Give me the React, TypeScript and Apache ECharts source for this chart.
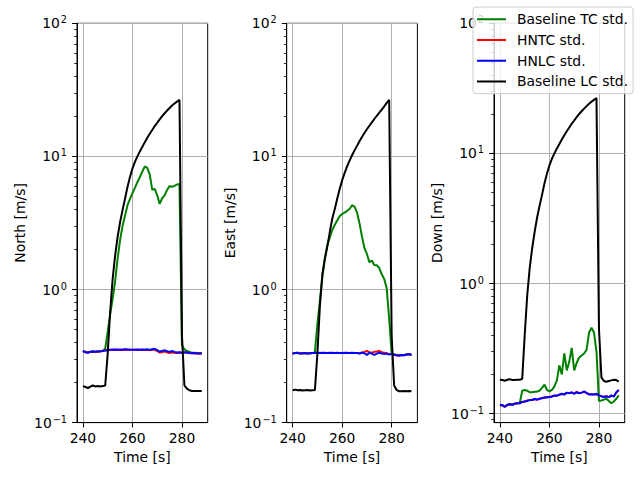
import React, { useEffect, useRef } from "react";
import * as echarts from "echarts";

const time = [
  240, 241, 242, 243, 244, 245, 246, 247, 248, 249,
  250, 251, 252, 253, 254, 255, 256, 257, 258, 259,
  260, 261, 262, 263, 264, 265, 266, 267, 268, 269,
  270, 271, 272, 273, 274, 275, 276, 277, 278, 279,
  280, 281, 282, 283, 284, 285, 286, 287, 288,
];

// North
const northTC = [
  0.345, 0.34, 0.338, 0.34, 0.342, 0.34, 0.342, 0.343, 0.345, 0.36,
  0.48, 0.65, 0.85, 1.15, 1.7, 2.35, 3.0, 3.6, 4.3, 4.8,
  5.3, 5.8, 6.4, 7.0, 7.7, 8.4, 8.2, 7.3, 5.6, 5.7,
  5.1, 4.4, 4.85, 5.1, 5.6, 6.0, 5.9, 6.0, 6.15, 6.2,
  0.38, 0.355, 0.345, 0.34, 0.335, 0.335, 0.333, 0.333, 0.333,
];
const northHNTC = [
  0.344, 0.337, 0.336, 0.34, 0.341, 0.341, 0.342, 0.342, 0.346, 0.349,
  0.351, 0.352, 0.352, 0.353, 0.353, 0.352, 0.352, 0.354, 0.353, 0.352,
  0.352, 0.352, 0.353, 0.351, 0.352, 0.351, 0.352, 0.35, 0.352, 0.352,
  0.345, 0.336, 0.338, 0.343, 0.336, 0.333, 0.338, 0.334, 0.333, 0.336,
  0.334, 0.337, 0.335, 0.333, 0.332, 0.332, 0.331, 0.33, 0.33,
];
const northHNLC = [
  0.345, 0.338, 0.335, 0.34, 0.342, 0.34, 0.342, 0.343, 0.345, 0.348,
  0.35, 0.352, 0.353, 0.354, 0.352, 0.352, 0.353, 0.355, 0.354, 0.353,
  0.352, 0.353, 0.354, 0.352, 0.354, 0.353, 0.355, 0.352, 0.356, 0.358,
  0.35, 0.342, 0.346, 0.35, 0.343, 0.34, 0.345, 0.34, 0.336, 0.338,
  0.335, 0.338, 0.336, 0.333, 0.332, 0.333, 0.331, 0.33, 0.331,
];
const northLC = [
  0.188, 0.185, 0.182, 0.186, 0.19, 0.187, 0.188, 0.187, 0.188, 0.19,
  0.33, 0.68, 1.2, 1.8, 2.48, 3.2, 3.95, 4.8, 5.9, 7.0,
  8.1, 9.1, 10.0, 10.9, 11.8, 12.8, 13.8, 14.8, 15.8, 16.9,
  17.9, 19.0, 20.1, 21.1, 22.1, 23.1, 24.1, 25.0, 25.8, 26.6,
  0.45, 0.19, 0.18, 0.175, 0.173, 0.173, 0.173, 0.173, 0.173,
];

// East
const eastTC = [
  0.33, 0.333, 0.335, 0.33, 0.332, 0.333, 0.33, 0.332, 0.333, 0.34,
  0.55, 0.82, 1.24, 1.7, 2.15, 2.45, 2.8, 3.05, 3.3, 3.55,
  3.7, 3.78, 3.9, 4.03, 4.3, 4.2, 3.8, 3.15, 2.5, 2.05,
  1.85, 1.6, 1.65, 1.53, 1.52, 1.45, 1.3, 1.2, 1.02, 0.6,
  0.33, 0.326, 0.324, 0.322, 0.322, 0.322, 0.324, 0.326, 0.322,
];
const eastHNTC = [
  0.331, 0.333, 0.334, 0.331, 0.332, 0.333, 0.331, 0.332, 0.333, 0.334,
  0.335, 0.334, 0.334, 0.335, 0.334, 0.334, 0.335, 0.334, 0.334, 0.333,
  0.334, 0.334, 0.335, 0.334, 0.333, 0.334, 0.334, 0.332, 0.336, 0.34,
  0.345, 0.338, 0.335, 0.34, 0.342, 0.345, 0.338, 0.335, 0.332, 0.327,
  0.327, 0.323, 0.321, 0.319, 0.322, 0.321, 0.325, 0.327, 0.323,
];
const eastHNLC = [
  0.33, 0.333, 0.335, 0.33, 0.332, 0.333, 0.33, 0.332, 0.333, 0.334,
  0.335, 0.334, 0.335, 0.334, 0.334, 0.335, 0.334, 0.334, 0.335, 0.334,
  0.334, 0.335, 0.334, 0.334, 0.335, 0.334, 0.333, 0.33, 0.335, 0.332,
  0.322, 0.335, 0.33, 0.322, 0.33, 0.335, 0.33, 0.328, 0.33, 0.325,
  0.328, 0.322, 0.32, 0.318, 0.322, 0.32, 0.325, 0.328, 0.322,
];
const eastLC = [
  0.175, 0.177, 0.175, 0.176, 0.174, 0.175, 0.176, 0.174, 0.175, 0.176,
  0.33, 0.75, 1.3, 1.7, 2.1, 2.7, 3.4, 4.0, 4.8, 5.7,
  6.6, 7.5, 8.4, 9.3, 10.2, 11.1, 12.0, 13.0, 14.0, 15.0,
  16.0, 17.0, 18.0, 19.1, 20.2, 21.3, 22.5, 23.8, 25.2, 26.6,
  0.45, 0.19, 0.176, 0.172, 0.172, 0.173, 0.172, 0.173, 0.172,
];

// Down
const downTC = [
  0.117, 0.116, 0.113, 0.117, 0.118, 0.117, 0.119, 0.12, 0.12, 0.15,
  0.152, 0.15, 0.146, 0.146, 0.147, 0.148, 0.15, 0.158, 0.167, 0.152,
  0.148, 0.152, 0.162, 0.18, 0.235, 0.2, 0.29, 0.215, 0.25, 0.32,
  0.215, 0.245, 0.27, 0.28, 0.29, 0.31, 0.42, 0.457, 0.42, 0.3,
  0.125, 0.126, 0.128, 0.13, 0.125, 0.12, 0.124, 0.13, 0.138,
];
const downHNTC = [
  0.117, 0.115, 0.113, 0.116, 0.118, 0.118, 0.119, 0.12, 0.121, 0.123,
  0.124, 0.126, 0.127, 0.128, 0.129, 0.128, 0.13, 0.132, 0.133, 0.134,
  0.134, 0.136, 0.137, 0.138, 0.14, 0.141, 0.141, 0.144, 0.144, 0.145,
  0.143, 0.147, 0.144, 0.145, 0.147, 0.144, 0.141, 0.141, 0.14, 0.141,
  0.138, 0.136, 0.135, 0.136, 0.134, 0.137, 0.136, 0.145, 0.151,
];
const downHNLC = [
  0.117, 0.116, 0.113, 0.117, 0.118, 0.117, 0.119, 0.12, 0.12, 0.123,
  0.124, 0.125, 0.127, 0.127, 0.13, 0.128, 0.13, 0.131, 0.133, 0.133,
  0.134, 0.135, 0.138, 0.137, 0.14, 0.142, 0.14, 0.145, 0.143, 0.146,
  0.142, 0.146, 0.143, 0.145, 0.148, 0.144, 0.14, 0.141, 0.14, 0.142,
  0.138, 0.136, 0.134, 0.136, 0.134, 0.138, 0.135, 0.146, 0.152,
];
const downLC = [
  0.182, 0.181, 0.179, 0.182, 0.184, 0.181, 0.181, 0.182, 0.182, 0.185,
  0.4, 0.8, 1.3, 1.85, 2.48, 3.2, 3.95, 4.8, 5.9, 7.0,
  8.1, 9.1, 10.0, 10.9, 11.8, 12.8, 13.8, 14.8, 15.8, 16.9,
  17.9, 19.0, 20.1, 21.1, 22.1, 23.1, 24.1, 25.0, 25.8, 26.6,
  0.45, 0.19, 0.178, 0.176, 0.178, 0.18, 0.182, 0.181, 0.176,
];

const seriesNames = ["Baseline TC std.", "HNTC std.", "HNLC std.", "Baseline LC std."];
const seriesColors = ["#008000", "#ff0000", "#0000ff", "#000000"];
const panelNames = ["North [m/s]", "East [m/s]", "Down [m/s]"];
const panelData = [
  [northTC, northHNTC, northHNLC, northLC],
  [eastTC, eastHNTC, eastHNLC, eastLC],
  [downTC, downHNTC, downHNLC, downLC],
];
const yMins = [0.1, 0.1, 0.0853];
const yMaxs = [100, 100, 100];
const xTicks = [240, 260, 280];
const yMajorTicks = [0.1, 1, 10, 100];
const yMinorTicks = [
  0.09,
  0.2, 0.3, 0.4, 0.5, 0.6, 0.7, 0.8, 0.9,
  2, 3, 4, 5, 6, 7, 8, 9,
  20, 30, 40, 50, 60, 70, 80, 90,
];

const FONT = "DejaVu Sans";
const FS = 13.9;
const gridLefts = [77, 286.7, 494];
const gridTop = 23.3;
const gridW = 130.7;
const gridH = 399.3;

const LEGEND_ICON =
  "path://M0,0h0.01v0.01h-0.01z M0,6h29v2h-29z M0,13.99h0.01v0.01h-0.01z";

function supLabel(v: number) {
  const e = Math.round(Math.log10(v));
  const s = e < 0 ? "\u2212" + String(-e) : String(e);
  return "{b|10}{s|" + s + "}";
}

export default function App() {
  const ref = useRef<HTMLDivElement>(null);
  useEffect(() => {
    document.body.style.margin = "0";
    if (!ref.current) return;
    const chart = echarts.init(ref.current, undefined, { renderer: "svg" });

    const grids = gridLefts.map((l) => ({
      left: l,
      top: gridTop,
      width: gridW,
      height: gridH,
      show: true,
      borderColor: "#000",
      borderWidth: 1,
      backgroundColor: "transparent",
    }));

    const xAxes = gridLefts.map((_, i) => ({
      type: "value",
      gridIndex: i,
      min: 237.6,
      max: 290.4,
      splitNumber: 3,
      name: "Time [s]",
      nameLocation: "middle",
      nameGap: 27,
      nameTextStyle: { color: "#000", fontFamily: FONT, fontSize: FS },
      axisLine: { show: true, onZero: false, lineStyle: { color: "#000", width: 1 } },
      axisTick: {
        show: true,
        customValues: xTicks,
        length: 4.9,
        inside: false,
        lineStyle: { color: "#000", width: 1 },
      },
      axisLabel: {
        customValues: xTicks,
        color: "#000",
        fontFamily: FONT,
        fontSize: FS,
        margin: 8,
      },
      splitLine: { show: true, lineStyle: { color: "#b0b0b0", width: 1 } },
    }));

    const yMain = gridLefts.map((_, i) => ({
      type: "log",
      logBase: 10,
      gridIndex: i,
      position: "left",
      min: yMins[i],
      max: yMaxs[i],
      name: panelNames[i],
      nameLocation: "middle",
      nameGap: 50,
      nameTextStyle: { color: "#000", fontFamily: FONT, fontSize: FS },
      axisLine: { show: true, lineStyle: { color: "#000", width: 1 } },
      axisTick: {
        show: true,
        customValues: yMajorTicks,
        length: 4.9,
        lineStyle: { color: "#000", width: 1 },
      },
      axisLabel: {
        customValues: yMajorTicks,
        margin: 10,
        formatter: (v: number) => supLabel(v),
        rich: {
          b: { fontFamily: FONT, fontSize: FS, color: "#000" },
          s: { fontFamily: FONT, fontSize: 9.7, color: "#000", padding: [0, 0, 7, 1] },
        },
      },
      splitLine: { show: true, lineStyle: { color: "#b0b0b0", width: 1 } },
    }));

    const yMinor = gridLefts.map((_, i) => ({
      type: "log",
      logBase: 10,
      gridIndex: i,
      position: "left",
      offset: 0,
      min: yMins[i],
      max: yMaxs[i],
      axisLine: { show: false },
      axisLabel: { show: false },
      splitLine: { show: false },
      axisTick: {
        show: true,
        customValues: yMinorTicks.filter((v) => v >= yMins[i] && v <= yMaxs[i]),
        length: 2.8,
        lineStyle: { color: "#000", width: 0.8 },
      },
    }));

    const series: any[] = [];
    panelData.forEach((arrs, p) => {
      arrs.forEach((arr, k) => {
        series.push({
          type: "line",
          name: seriesNames[k],
          xAxisIndex: p,
          yAxisIndex: p,
          data: time.map((t, j) => [t, arr[j]]),
          symbol: "none",
          showSymbol: false,
          lineStyle: { color: seriesColors[k], width: 2 },
          itemStyle: { color: seriesColors[k] },
          emphasis: { disabled: true },
        });
      });
    });

    chart.setOption({
      animation: false,
      grid: grids,
      xAxis: xAxes,
      yAxis: [...yMain, ...yMinor],
      legend: {
        data: seriesNames,
        icon: LEGEND_ICON,
        orient: "vertical",
        left: 473,
        top: 7,
        padding: [5.3, 5, 5.3, 4],
        itemGap: 6.7,
        itemWidth: 29,
        itemHeight: 14,
        itemStyle: { borderWidth: 0 },
        backgroundColor: "rgba(255,255,255,0.8)",
        borderColor: "#cccccc",
        borderWidth: 1,
        borderRadius: 3,
        selectedMode: false,
        textStyle: {
          color: "#000",
          fontFamily: FONT,
          fontSize: FS,
          lineHeight: 14,
          padding: [0, 0, 0, 6],
        },
        z: 10,
      },
      series,
    });
    return () => chart.dispose();
  }, []);
  return <div ref={ref} style={{ width: 640, height: 480 }} />;
}
